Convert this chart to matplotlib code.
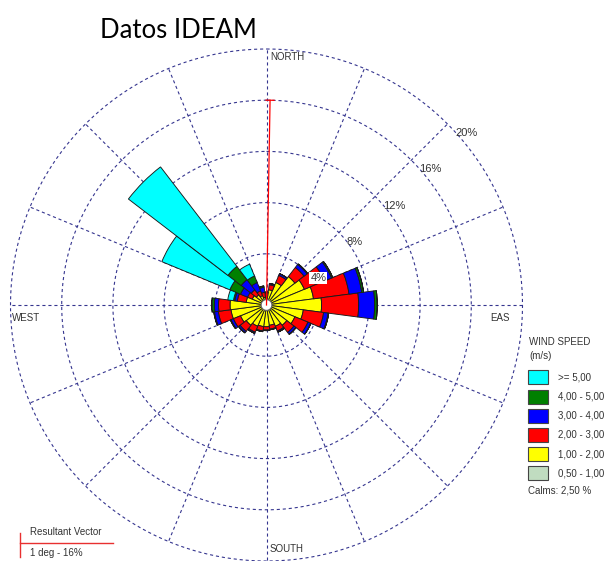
import numpy as np
import matplotlib
matplotlib.use("Agg")
import matplotlib.pyplot as plt
from matplotlib.patches import Rectangle

# ---- data -------------------------------------------------------------
directions = np.arange(0, 360, 15)  # degrees, 24 sectors

# frequency (%) per direction and speed class
spd_050_100 = [0.2] * 24
spd_100_200 = [0.40, 1.00, 1.70, 2.60, 3.00, 3.50, 4.10, 2.70, 2.20, 1.80, 1.60, 1.40,
               1.50, 1.50, 1.60, 1.80, 2.00, 2.60, 2.65, 1.40, 1.00, 0.80, 0.60, 0.40]
spd_200_300 = [0.35, 0.40, 0.60, 0.90, 1.70, 2.80, 2.90, 1.60, 1.10, 0.70, 0.40, 0.30,
               0.25, 0.35, 0.50, 0.60, 0.60, 1.00, 0.90, 0.70, 0.40, 0.50, 0.40, 0.40]
spd_300_400 = [0.05, 0.10, 0.15, 0.30, 0.60, 1.00, 1.25, 0.35, 0.25, 0.20, 0.10, 0.05,
               0.05, 0.05, 0.10, 0.15, 0.20, 0.30, 0.32, 0.20, 0.60, 1.00, 0.70, 0.40]
spd_400_500 = [0.00, 0.00, 0.00, 0.05, 0.10, 0.15, 0.20, 0.05, 0.00, 0.00, 0.00, 0.00,
               0.00, 0.00, 0.00, 0.00, 0.05, 0.05, 0.18, 0.10, 0.90, 1.30, 0.55, 0.10]
spd_500_up = [0.00, 0.00, 0.00, 0.00, 0.00, 0.00, 0.00, 0.00, 0.00, 0.00, 0.00, 0.00,
              0.00, 0.00, 0.00, 0.00, 0.00, 0.00, 0.05, 0.45, 5.75, 9.80, 1.00, 0.00]

speed_classes = [spd_050_100, spd_100_200, spd_200_300, spd_300_400, spd_400_500, spd_500_up]
class_labels = ["0,50 - 1,00", "1,00 - 2,00", "2,00 - 3,00", "3,00 - 4,00",
                "4,00 - 5,00", ">= 5,00"]
class_colors = ["#C0DCC0", "#FFFF00", "#FF0000", "#0000FF", "#008000", "#00FFFF"]

calms_pct = 2.50
resultant_dir = 1      # degrees
resultant_pct = 16     # %
ring_values = [4, 8, 12, 16, 20]

# ---- figure -----------------------------------------------------------
W, H = 607, 561
fig = plt.figure(figsize=(W / 100, H / 100), dpi=100)
fig.patch.set_facecolor("white")

cx, cy, R = 266.5, 305.0, 256.0
ax = fig.add_axes([(cx - R) / W, (H - cy - R) / H, 2 * R / W, 2 * R / H],
                  projection="polar")
ax.set_theta_zero_location("N")
ax.set_theta_direction(-1)
ax.set_rlim(0, 20)
ax.grid(False)
ax.set_xticks([])
ax.set_yticks([])
ax.spines["polar"].set_visible(False)
ax.patch.set_alpha(0)

grid_c = "#35358f"
th = np.linspace(0, 2 * np.pi, 400)
for r in ring_values:
    ax.plot(th, np.full_like(th, r), color=grid_c, lw=0.8,
            ls=(0, (2.8, 2.6)), clip_on=False, zorder=1)
for a in np.arange(0, 360, 22.5):
    ax.plot([np.deg2rad(a)] * 2, [0, 20], color=grid_c, lw=0.8,
            ls=(0, (2.8, 2.6)), clip_on=False, zorder=1)

# stacked petals
theta = np.deg2rad(directions)
width = np.deg2rad(15)
bottom = np.zeros(len(directions))
for vals, col in zip(speed_classes, class_colors):
    vals = np.asarray(vals, dtype=float)
    ax.bar(theta, vals, width=width, bottom=bottom, color=col,
           edgecolor="#1a1a1a", linewidth=0.65, zorder=3)
    bottom += vals

# calm circle
ax.fill(th, np.full_like(th, 0.42), facecolor="white", edgecolor="#666666",
        lw=0.8, zorder=6)

# resultant vector
tr = np.deg2rad(resultant_dir)
ax.plot([tr, tr], [0, resultant_pct], color="red", lw=0.9, zorder=7)
px_, py_ = resultant_pct * np.sin(tr), resultant_pct * np.cos(tr)
perp = np.array([np.cos(tr), -np.sin(tr)]) * 0.32
ends = [(px_ + s * perp[0], py_ + s * perp[1]) for s in (-1, 1)]
ax.plot([np.arctan2(e[0], e[1]) for e in ends], [np.hypot(*e) for e in ends],
        color="red", lw=0.9, zorder=7)

# ring labels along the NE spoke
txt_c = "#333333"
for r in ring_values:
    kw = {}
    if r == 4:
        kw["bbox"] = dict(facecolor="white", edgecolor="none", pad=0.8)
    ax.annotate(f"{r}%", xy=(np.deg2rad(45), r), xytext=(5.5, -3),
                textcoords="offset points", ha="left", va="top",
                fontsize=8, color=txt_c, family="Liberation Sans",
                zorder=8, annotation_clip=False, **kw)

# ---- overlay in pixel coordinates for labels and legend -------------------
ov = fig.add_axes([0, 0, 1, 1])
ov.set_xlim(0, W)
ov.set_ylim(H, 0)
ov.axis("off")
ov.patch.set_alpha(0)

fs = 7.0
fam = "Liberation Sans"
ov.text(100, 37.5, "Datos IDEAM", fontsize=18.5, family="Lato",
        color="black", ha="left", va="baseline")
ov.text(270, 57, "NORTH", fontsize=fs, family=fam, color=txt_c, va="center")
ov.text(270, 549, "SOUTH", fontsize=fs, family=fam, color=txt_c, va="center")
ov.text(12, 318, "WEST", fontsize=fs, family=fam, color=txt_c, va="center")
ov.text(490, 318, "EAS", fontsize=fs, family=fam, color=txt_c, va="center")

ov.text(529, 342, "WIND SPEED", fontsize=fs, family=fam, color=txt_c, va="center")
ov.text(529, 356, "(m/s)", fontsize=fs, family=fam, color=txt_c, va="center")
y0, dy = 377.3, 19.2
for i, (lab, col) in enumerate(zip(class_labels[::-1], class_colors[::-1])):
    yc = y0 + i * dy
    ov.add_patch(Rectangle((527.5, yc - 7), 20, 14, facecolor=col,
                           edgecolor="#444444", lw=0.8))
    ov.text(558, yc, lab, fontsize=fs, family=fam, color=txt_c, va="center")
ov.text(528, 490, f"Calms: {calms_pct:.2f}%".replace(".", ",").replace("%", " %"),
        fontsize=fs, family=fam, color=txt_c, va="center")

# resultant vector key
ov.plot([19.5, 19.5], [533, 557], color="#e83030", lw=1.0)
ov.plot([19.5, 113], [542.7, 542.7], color="#e83030", lw=1.0)
ov.text(30, 532, "Resultant Vector", fontsize=fs, family=fam, color=txt_c, va="center")
ov.text(30, 553, f"{resultant_dir} deg - {resultant_pct}%", fontsize=fs,
        family=fam, color=txt_c, va="center")

fig.savefig("out.png", dpi=100, facecolor="white")
